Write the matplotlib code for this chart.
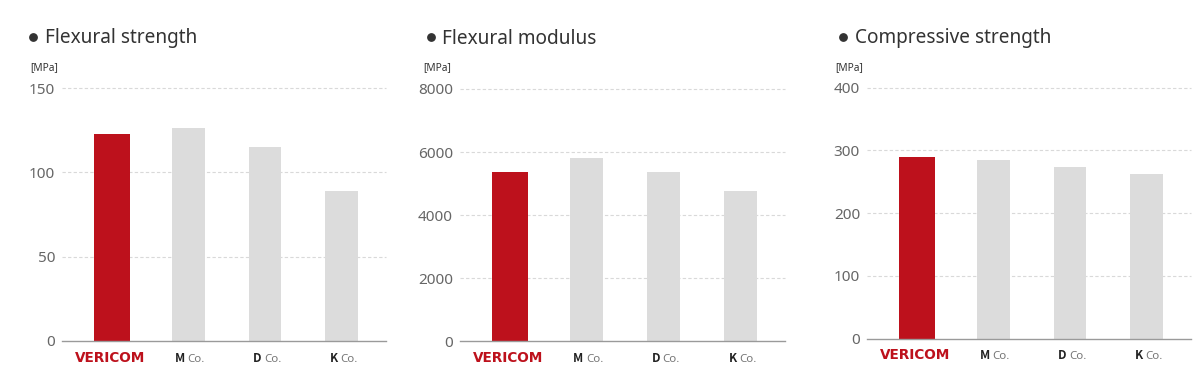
import matplotlib
matplotlib.use("Agg")
import matplotlib.pyplot as plt
from matplotlib.lines import Line2D

# ---- data ----
categories = ["VERICOM", "M", "D", "K"]
flexural_strength = [123, 126, 115, 89]
flexural_modulus = [5370, 5820, 5360, 4770]
compressive_strength = [289, 284, 273, 263]
titles = ["Flexural strength", "Flexural modulus", "Compressive strength"]
unit = "[MPa]"
yticks_list = [[0, 50, 100, 150], [0, 2000, 4000, 6000, 8000], [0, 100, 200, 300, 400]]
series = [flexural_strength, flexural_modulus, compressive_strength]

W, H = 1200, 373
fig = plt.figure(figsize=(W / 100, H / 100), dpi=100)
plt.rcParams['font.family'] = ['Noto Sans', 'DejaVu Sans']

RED = '#bd111c'
GRAY = '#dcdcdc'

def rect(l, r, top, bot):
    return [l / W, (H - bot) / H, (r - l) / W, (bot - top) / H]

axes_px = [(62, 386, 88, 341), (460, 785, 89, 341.3), (867, 1191, 87.7, 338.5)]
bullet_x = [33, 430.7, 842.7]
title_x = [45, 441.7, 855]
unit_x = [30.7, 423, 835]

for k in range(3):
    ax = fig.add_axes(rect(*axes_px[k]))
    vals = series[k]
    xs = list(range(len(categories)))
    widths = [0.47 if c == "VERICOM" else 0.43 for c in categories]
    colors = [RED if c == "VERICOM" else GRAY for c in categories]
    ax.bar(xs, vals, width=widths, color=colors, zorder=3)
    ax.set_xlim(-0.65, 3.58)
    yt = yticks_list[k]
    ax.set_ylim(0, yt[-1])
    ax.set_yticks(yt)
    ax.set_yticklabels([str(v) for v in yt])
    ax.set_xticks([])
    ax.set_axisbelow(True)
    for v in yt[1:]:
        ax.axhline(v, color='#d9d9d9', lw=0.8, ls=(0, (3, 2)), zorder=1, clip_on=False)
    for s in ['top', 'right', 'left']:
        ax.spines[s].set_visible(False)
    ax.spines['bottom'].set_color('#9a9a9a')
    ax.spines['bottom'].set_linewidth(1.0)
    ax.spines['bottom'].set_zorder(4)
    ax.tick_params(axis='y', length=0, pad=5, labelsize=11, labelcolor='#666666')

    # category labels
    for i, c in enumerate(categories):
        if c == "VERICOM":
            ax.annotate(c, xy=(i, 0), xycoords=('data', 'axes fraction'),
                        xytext=(-1.0, -15), textcoords='offset points',
                        ha='center', va='baseline', fontsize=9.8,
                        family='DejaVu Sans', fontweight='bold',
                        color=RED, annotation_clip=False)
        else:
            ax.annotate(c, xy=(i, 0), xycoords=('data', 'axes fraction'),
                        xytext=(-2.5, -15), textcoords='offset points',
                        ha='right', va='baseline', fontsize=8.5,
                        family=['Noto Sans CJK KR', 'DejaVu Sans'],
                        fontweight='bold', color='#222222', annotation_clip=False)
            ax.annotate("Co.", xy=(i, 0), xycoords=('data', 'axes fraction'),
                        xytext=(-0.7, -15), textcoords='offset points',
                        ha='left', va='baseline', fontsize=8.3,
                        color='#777777', annotation_clip=False)

    # title
    fig.add_artist(Line2D([bullet_x[k] / W], [(H - 37) / H], marker='o', ms=5.3,
                          color='#333333', transform=fig.transFigure, ls='none'))
    fig.text(title_x[k] / W, (H - 43.5) / H, titles[k], fontsize=13.7,
             color='#333333', ha='left', va='baseline')
    fig.text(unit_x[k] / W, (H - 70.5) / H, unit, fontsize=7.3,
             color='#333333', ha='left', va='baseline')

fig.savefig("out.png", dpi=100)
